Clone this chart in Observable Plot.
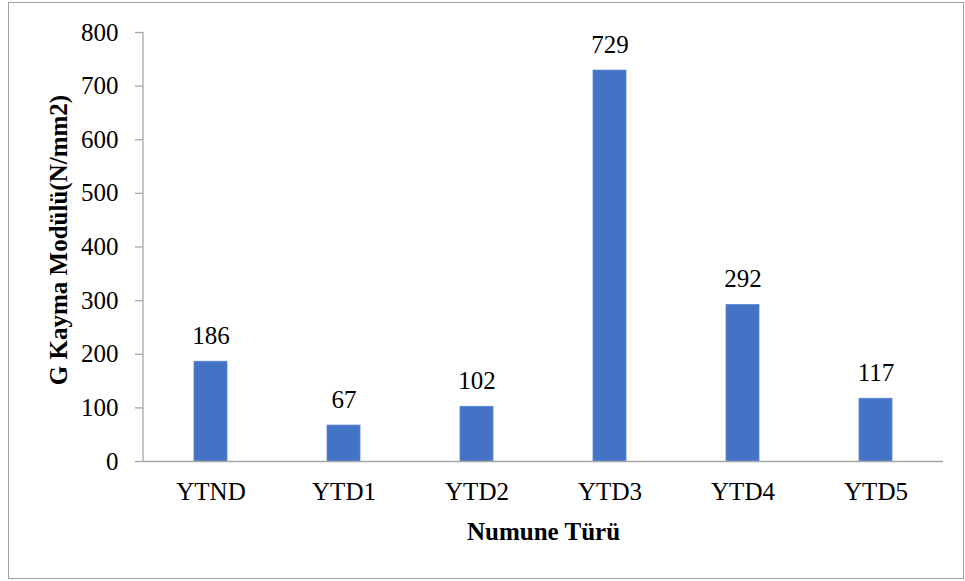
<!DOCTYPE html>
<html>
<head>
<meta charset="utf-8">
<script src="https://cdn.jsdelivr.net/npm/d3@7"></script>
<script src="https://cdn.jsdelivr.net/npm/@observablehq/plot@0.6"></script>
<style>
  html, body { margin: 0; padding: 0; background: #fff; }
  #wrap { position: relative; width: 965px; height: 581px; }
  #border { position: absolute; left: 8px; top: 2px; width: 954px; height: 575px; border: 1px solid #a0a0a0; pointer-events: none; }
</style>
</head>
<body>
<div id="wrap"><div id="border"></div></div>
<script>
const categories = ["YTND", "YTD1", "YTD2", "YTD3", "YTD4", "YTD5"];
const values = [186, 67, 102, 729, 292, 117];
const yTicks = [0, 100, 200, 300, 400, 500, 600, 700, 800];
const yLabel = "G Kayma Modülü(N/mm2)";
const xLabel = "Numune Türü";

const data = categories.map((c, i) => ({category: c, value: values[i]}));
const axisGray = "#a6a6a6";

const yAxisLine = (index, scales, values, dimensions) => {
  const g = d3.create("svg:g");
  const x = dimensions.marginLeft;
  g.append("line")
    .attr("x1", x).attr("x2", x)
    .attr("y1", scales.y(800)).attr("y2", scales.y(0))
    .attr("stroke", axisGray).attr("stroke-width", 1.3);
  return g.node();
};

const chart = Plot.plot({
  width: 965,
  height: 581,
  marginLeft: 143,
  marginRight: 22,
  marginTop: 32,
  marginBottom: 120,
  style: {fontFamily: "'Liberation Serif', 'Times New Roman', serif", fontSize: "25px", color: "#000", background: "transparent"},
  x: {domain: categories, paddingInner: 0.75, paddingOuter: 0.375, label: null},
  y: {domain: [0, 800], label: null},
  marks: [
    Plot.barY(data, {x: "category", y: "value", fill: "#4472C4", stroke: "#5a86d0", strokeWidth: 0.8}),
    Plot.ruleY([0], {stroke: axisGray, strokeWidth: 1.3}),
    yAxisLine,
    Plot.axisY({ticks: yTicks, tickSize: 8, tickPadding: 17, stroke: axisGray, strokeWidth: 1.3, label: null, tickFormat: d => String(d)}),
    Plot.axisX({tickSize: 0, tickPadding: 21, label: null}),
    Plot.text(data, {x: "category", y: "value", text: d => String(d.value), dy: -26, lineAnchor: "middle", fill: "#000"}),
    Plot.text([yLabel], {frameAnchor: "left", textAnchor: "middle", rotate: -90, dx: -85, dy: -7, lineAnchor: "middle", fontWeight: "bold", fill: "#000", text: d => d}),
    Plot.text([xLabel], {frameAnchor: "bottom", textAnchor: "middle", dy: 70, lineAnchor: "middle", fontWeight: "bold", fill: "#000", text: d => d})
  ]
});
document.getElementById("wrap").appendChild(chart);
</script>
</body>
</html>
